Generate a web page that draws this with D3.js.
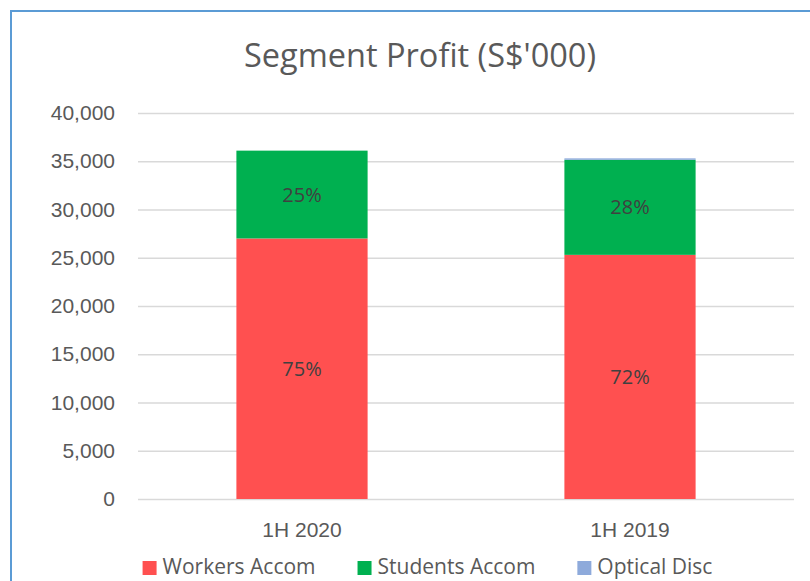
<!DOCTYPE html>
<html lang="en">
  <head>
    <meta charset="UTF-8" />
    <title>Segment Profit</title>
    <script src="https://d3js.org/d3.v7.min.js"></script>
    <style>
      body {
        margin: 0;
        background: #fff;
        font-family: "Open Sans", sans-serif;
      }
      svg {
        display: block;
      }
      .tick text {
        fill: #595959;
        font-size: 21px;
      }
      .grid line {
        stroke: #d9d9d9;
        stroke-width: 1.5;
      }
    </style>
  </head>
  <body>
    <svg width="810" height="581"></svg>
    <script>
      // chart values (S$'000)
      const periods = ["1H 2020", "1H 2019"];
      const segments = ["Workers Accom", "Students Accom", "Optical Disc"];
      const workers = [27000, 25300];
      const students = [9100, 9850];
      const optical = [0, 150];
      const pctLabels = [["75%", "25%", ""], ["72%", "28%", ""]];
      const yTicks = [0, 5000, 10000, 15000, 20000, 25000, 30000, 35000, 40000];

      const colors = ["#ff5050", "#00b050", "#8eaadb"];

      const svg = d3.select("svg");

      // outer chart border
      svg.append("rect")
        .attr("x", 11)
        .attr("y", 11)
        .attr("width", 840)
        .attr("height", 600)
        .attr("fill", "none")
        .attr("stroke", "#5b9bd5")
        .attr("stroke-width", 2);

      const plot = { left: 138, right: 794, top: 113, bottom: 499 };

      const x = d3.scaleBand()
        .domain(periods)
        .range([plot.left, plot.right])
        .paddingInner(0.6)
        .paddingOuter(0.3);

      const y = d3.scaleLinear()
        .domain([0, 40000])
        .range([plot.bottom, plot.top]);

      // gridlines + y labels
      const yAxis = svg.append("g")
        .attr("class", "grid")
        .attr("transform", `translate(${plot.left},0)`)
        .call(
          d3.axisLeft(y)
            .tickValues(yTicks)
            .tickFormat(d3.format(","))
            .tickSize(-(plot.right - plot.left))
            .tickPadding(23)
        );
      yAxis.select(".domain").remove();

      // stacked data
      const rows = periods.map((p, i) => ({
        period: p,
        "Workers Accom": workers[i],
        "Students Accom": students[i],
        "Optical Disc": optical[i],
      }));
      const stacked = d3.stack().keys(segments)(rows);

      const layers = svg.append("g")
        .selectAll("g")
        .data(stacked)
        .join("g")
        .attr("fill", (d, i) => colors[i]);

      layers.selectAll("rect")
        .data((d) => d)
        .join("rect")
        .attr("x", (d) => x(d.data.period))
        .attr("y", (d) => y(d[1]))
        .attr("width", x.bandwidth())
        .attr("height", (d) => y(d[0]) - y(d[1]));

      // percentage labels
      stacked.forEach((layer, k) => {
        svg.append("g")
          .selectAll("text")
          .data(layer)
          .join("text")
          .attr("x", (d) => x(d.data.period) + x.bandwidth() / 2)
          .attr("y", (d) => (y(d[0]) + y(d[1])) / 2)
          .attr("dy", "0.35em")
          .attr("text-anchor", "middle")
          .attr("fill", "#404040")
          .style("font-size", "20px")
          .text((d, i) => pctLabels[i][k]);
      });

      // x axis labels
      const xAxis = svg.append("g")
        .attr("transform", `translate(0,${plot.bottom})`)
        .call(d3.axisBottom(x).tickSize(0).tickPadding(23));
      xAxis.select(".domain").remove();

      // title
      svg.append("text")
        .attr("x", 420)
        .attr("y", 67)
        .attr("text-anchor", "middle")
        .attr("fill", "#595959")
        .style("font-size", "32.5px")
        .text("Segment Profit (S$'000)");

      // legend
      const legend = svg.append("g");
      let lx = 0;
      segments.forEach((s, i) => {
        const item = legend.append("g").attr("transform", `translate(${lx},0)`);
        item.append("rect")
          .attr("x", 0)
          .attr("y", 561)
          .attr("width", 14)
          .attr("height", 14)
          .attr("fill", colors[i]);
        const t = item.append("text")
          .attr("x", 20)
          .attr("y", 567)
          .attr("dy", "0.35em")
          .attr("fill", "#595959")
          .style("font-size", "21px")
          .text(s);
        lx += 20 + t.node().getComputedTextLength() + 42;
      });
      const legendW = lx - 42;
      legend.attr("transform", `translate(${427.5 - legendW / 2},0)`);
    </script>
  </body>
</html>
